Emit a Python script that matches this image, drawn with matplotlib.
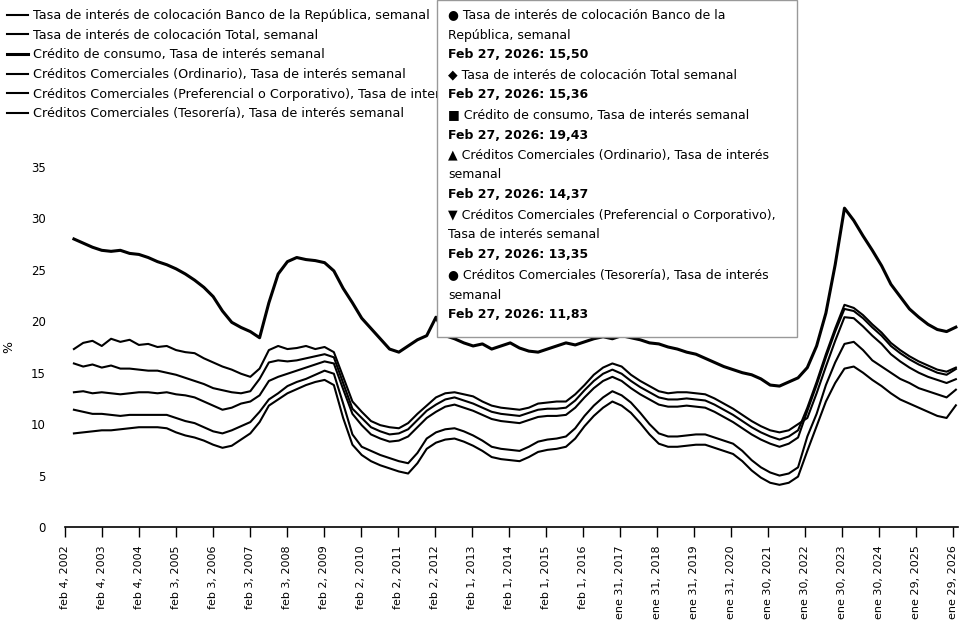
import pandas as pd
import matplotlib
matplotlib.use('Agg')
import matplotlib.pyplot as plt
from matplotlib.patches import Rectangle

# series labels
labels = [
    'Tasa de interés de colocación Banco de la República, semanal',
    'Tasa de interés de colocación Total, semanal',
    'Crédito de consumo, Tasa de interés semanal',
    'Créditos Comerciales (Ordinario), Tasa de interés semanal',
    'Créditos Comerciales (Preferencial o Corporativo), Tasa de interés semanal',
    'Créditos Comerciales (Tesorería), Tasa de interés semanal',
]

# quarterly readings from 2002-05 to 2026-02-27 (96 points)
dates = pd.date_range('2002-05-03', '2026-02-27', periods=96)

banrep = [15.9, 15.6, 15.8, 15.5, 15.7, 15.4, 15.4, 15.3, 15.2, 15.2, 15.0, 14.8, 14.5, 14.2, 13.9, 13.5,
          13.3, 13.1, 13.0, 13.2, 14.4, 16.0, 16.2, 16.1, 16.2, 16.4, 16.6, 16.8, 16.5, 14.0, 11.5, 10.6,
          9.7, 9.3, 9.0, 9.1, 9.5, 10.4, 11.3, 11.9, 12.4, 12.6, 12.3, 12.0, 11.6, 11.2, 11.0, 10.9,
          10.8, 11.1, 11.4, 11.5, 11.5, 11.6, 12.3, 13.3, 14.2, 14.9, 15.3, 14.9, 14.2, 13.6, 13.1, 12.6,
          12.4, 12.4, 12.5, 12.4, 12.3, 11.9, 11.4, 10.9, 10.3, 9.7, 9.2, 8.8, 8.5, 8.8, 9.4,
          11.6, 14.1, 16.8, 19.3, 21.6, 21.3, 20.6, 19.7, 18.9, 17.9, 17.2, 16.6, 16.1, 15.7, 15.3, 15.1, 15.50]

total = [13.1, 13.2, 13.0, 13.1, 13.0, 12.9, 13.0, 13.1, 13.1, 13.0, 13.1, 12.9, 12.8, 12.6, 12.2, 11.8,
         11.4, 11.6, 12.0, 12.2, 12.8, 14.2, 14.6, 14.9, 15.2, 15.5, 15.8, 16.1, 15.9, 13.4, 11.0, 9.9,
         9.0, 8.6, 8.3, 8.4, 8.8, 9.7, 10.6, 11.2, 11.7, 11.9, 11.6, 11.3, 10.9, 10.5, 10.3, 10.2,
         10.1, 10.4, 10.7, 10.8, 10.8, 10.9, 11.6, 12.6, 13.5, 14.2, 14.6, 14.2, 13.5, 12.9, 12.4, 11.9,
         11.7, 11.7, 11.8, 11.7, 11.6, 11.2, 10.7, 10.2, 9.6, 9.0, 8.5, 8.1, 7.8, 8.1, 8.7,
         11.3, 13.8, 16.5, 19.0, 21.2, 21.0, 20.3, 19.4, 18.6, 17.6, 16.9, 16.3, 15.8, 15.4, 15.0, 14.8, 15.36]

consumo = [28.0, 27.6, 27.2, 26.9, 26.8, 26.9, 26.6, 26.5, 26.2, 25.8, 25.5, 25.1, 24.6, 24.0, 23.3, 22.4,
           21.0, 19.9, 19.4, 19.0, 18.4, 21.8, 24.6, 25.8, 26.2, 26.0, 25.9, 25.7, 24.9, 23.2, 21.8, 20.3,
           19.3, 18.3, 17.3, 17.0, 17.6, 18.2, 18.6, 20.4, 18.6, 18.3, 17.9, 17.6, 17.8, 17.3, 17.6, 17.9,
           17.4, 17.1, 17.0, 17.3, 17.6, 17.9, 17.7, 18.0, 18.3, 18.5, 18.3, 18.6, 18.4, 18.2, 17.9, 17.8,
           17.5, 17.3, 17.0, 16.8, 16.4, 16.0, 15.6, 15.3, 15.0, 14.8, 14.4, 13.8, 13.7, 14.1, 14.5,
           15.5, 17.6, 20.8, 25.5, 31.0, 29.8, 28.3, 26.9, 25.4, 23.6, 22.4, 21.2, 20.4, 19.7, 19.2, 19.0, 19.43]

ordinario = [17.3, 17.9, 18.1, 17.6, 18.3, 18.0, 18.2, 17.7, 17.8, 17.5, 17.6, 17.2, 17.0, 16.9, 16.4, 16.0,
             15.6, 15.3, 14.9, 14.6, 15.4, 17.2, 17.6, 17.3, 17.4, 17.6, 17.3, 17.5, 17.0, 14.6, 12.2, 11.2,
             10.3, 9.9, 9.7, 9.6, 10.1, 11.0, 11.8, 12.6, 13.0, 13.1, 12.9, 12.7, 12.2, 11.8, 11.6, 11.5,
             11.4, 11.6, 12.0, 12.1, 12.2, 12.2, 12.9, 13.8, 14.8, 15.5, 15.9, 15.6, 14.8, 14.2, 13.7, 13.2,
             13.0, 13.1, 13.1, 13.0, 12.9, 12.5, 12.0, 11.5, 10.9, 10.3, 9.8, 9.4, 9.2, 9.4, 10.0,
             10.6, 13.0, 15.6, 18.1, 20.4, 20.3, 19.5, 18.6, 17.8, 16.8, 16.1, 15.5, 15.0, 14.6, 14.3, 14.0, 14.37]

preferencial = [11.4, 11.2, 11.0, 11.0, 10.9, 10.8, 10.9, 10.9, 10.9, 10.9, 10.9, 10.6, 10.3, 10.1, 9.7, 9.3,
                9.1, 9.4, 9.8, 10.2, 11.2, 12.4, 13.0, 13.7, 14.1, 14.4, 14.8, 15.2, 14.9, 12.0, 9.0, 7.8,
                7.4, 7.0, 6.7, 6.4, 6.2, 7.2, 8.6, 9.2, 9.5, 9.6, 9.3, 8.9, 8.4, 7.8, 7.6, 7.5,
                7.4, 7.8, 8.3, 8.5, 8.6, 8.8, 9.6, 10.8, 11.8, 12.6, 13.2, 12.8, 12.1, 11.1, 10.0, 9.1,
                8.8, 8.8, 8.9, 9.0, 9.0, 8.7, 8.4, 8.1, 7.4, 6.5, 5.8, 5.3, 5.0, 5.2, 5.8,
                8.8, 11.0, 13.8, 16.0, 17.8, 18.0, 17.2, 16.2, 15.6, 15.0, 14.4, 14.0, 13.5, 13.2, 12.9, 12.6, 13.35]

tesoreria = [9.1, 9.2, 9.3, 9.4, 9.4, 9.5, 9.6, 9.7, 9.7, 9.7, 9.6, 9.2, 8.9, 8.7, 8.4, 8.0,
             7.7, 7.9, 8.5, 9.1, 10.2, 11.8, 12.4, 13.0, 13.4, 13.8, 14.1, 14.3, 13.8, 10.6, 8.0, 7.0,
             6.4, 6.0, 5.7, 5.4, 5.2, 6.2, 7.6, 8.2, 8.5, 8.6, 8.3, 7.9, 7.4, 6.8, 6.6, 6.5,
             6.4, 6.8, 7.3, 7.5, 7.6, 7.8, 8.6, 9.8, 10.8, 11.6, 12.2, 11.8, 11.1, 10.1, 9.0, 8.1,
             7.8, 7.8, 7.9, 8.0, 8.0, 7.7, 7.4, 7.1, 6.4, 5.5, 4.8, 4.3, 4.1, 4.3, 4.9,
             7.4, 9.8, 12.2, 14.0, 15.4, 15.6, 15.0, 14.3, 13.7, 13.0, 12.4, 12.0, 11.6, 11.2, 10.8, 10.6, 11.83]

tick_dates = pd.to_datetime([
    '2002-02-04', '2003-02-04', '2004-02-04', '2005-02-03', '2006-02-03', '2007-02-03',
    '2008-02-03', '2009-02-02', '2010-02-02', '2011-02-02', '2012-02-02', '2013-02-01',
    '2014-02-01', '2015-02-01', '2016-02-01', '2017-01-31', '2018-01-31', '2019-01-31',
    '2020-01-31', '2021-01-30', '2022-01-30', '2023-01-30', '2024-01-30', '2025-01-29',
    '2026-01-29'])
tick_labels = [
    'feb 4, 2002', 'feb 4, 2003', 'feb 4, 2004', 'feb 3, 2005', 'feb 3, 2006', 'feb 3, 2007',
    'feb 3, 2008', 'feb 2, 2009', 'feb 2, 2010', 'feb 2, 2011', 'feb 2, 2012', 'feb 1, 2013',
    'feb 1, 2014', 'feb 1, 2015', 'feb 1, 2016', 'ene 31, 2017', 'ene 31, 2018', 'ene 31, 2019',
    'ene 31, 2020', 'ene 30, 2021', 'ene 30, 2022', 'ene 30, 2023', 'ene 30, 2024', 'ene 29, 2025',
    'ene 29, 2026']

# tooltip content
tip_lines = [
    ('● Tasa de interés de colocación Banco de la', 'normal'),
    ('República, semanal', 'normal'),
    ('Feb 27, 2026: 15,50', 'bold'),
    ('◆ Tasa de interés de colocación Total semanal', 'normal'),
    ('Feb 27, 2026: 15,36', 'bold'),
    ('■ Crédito de consumo, Tasa de interés semanal', 'normal'),
    ('Feb 27, 2026: 19,43', 'bold'),
    ('▲ Créditos Comerciales (Ordinario), Tasa de interés', 'normal'),
    ('semanal', 'normal'),
    ('Feb 27, 2026: 14,37', 'bold'),
    ('▼ Créditos Comerciales (Preferencial o Corporativo),', 'normal'),
    ('Tasa de interés semanal', 'normal'),
    ('Feb 27, 2026: 13,35', 'bold'),
    ('● Créditos Comerciales (Tesorería), Tasa de interés', 'normal'),
    ('semanal', 'normal'),
    ('Feb 27, 2026: 11,83', 'bold'),
]

W, H = 961, 635
fig = plt.figure(figsize=(W / 100, H / 100), dpi=100)
ax = fig.add_axes([65 / W, 1 - 527 / H, (958 - 65) / W, (527 - 167) / H])

series = [banrep, total, consumo, ordinario, preferencial, tesoreria]
widths = [1.5, 1.5, 2.2, 1.5, 1.5, 1.5]
handles = []
for vals, lab, lw in zip(series, labels, widths):
    h, = ax.plot(dates, vals, color='black', lw=lw, label=lab)
    handles.append(h)

ax.set_ylim(0, 35)
ax.set_xlim(pd.Timestamp('2002-02-04'), pd.Timestamp('2026-03-20'))
ax.set_yticks(range(0, 36, 5))
ax.set_xticks(tick_dates)
ax.set_xticklabels(tick_labels, rotation=90, fontsize=8)
ax.tick_params(axis='y', length=0, labelsize=8.5, pad=14)
ax.tick_params(axis='x', length=7, width=1, direction='out', pad=6)
for s in ['top', 'right', 'left']:
    ax.spines[s].set_visible(False)
ax.spines['bottom'].set_color('black')
ax.spines['bottom'].set_linewidth(1.2)
ax.set_ylabel('%', fontsize=9)
ax.yaxis.set_label_coords(-50 / (958 - 65), 0.5)

fig.legend(handles, labels, loc='upper left', bbox_to_anchor=(2 / W, 1 - 4 / H),
           frameon=False, fontsize=9.2, handlelength=1.6, handletextpad=0.4,
           labelspacing=0.52, borderaxespad=0)

# tooltip box drawn on top of the legend, as in the hovered chart
box = Rectangle((437 / W, 1 - 337 / H), (797 - 437) / W, 337 / H, transform=fig.transFigure,
                facecolor='white', edgecolor='#999999', lw=1, zorder=10)
fig.patches.append(box)
for i, (txt, wt) in enumerate(tip_lines):
    fig.text(448 / W, 1 - (15 + 20 * i) / H, txt, fontsize=9.0, fontweight=wt,
             va='center', ha='left', zorder=11)

fig.savefig('out.png', dpi=100)
